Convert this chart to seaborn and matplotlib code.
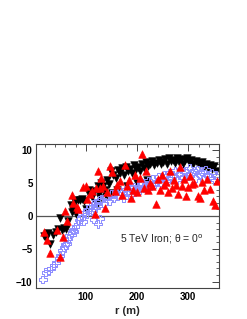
import pandas as pd
import seaborn as sns
import matplotlib.pyplot as plt
from matplotlib.ticker import MultipleLocator

# blue open crosses
blue_r = [16, 22, 27, 32, 37, 42, 47, 50, 54, 57, 60, 63, 66, 68, 72, 75, 78, 80, 84, 86,
          90, 92, 95, 98, 102, 104, 108, 112, 114, 115, 118, 120, 124, 124, 126, 128, 130, 134, 138, 142,
          146, 150, 154, 158, 162, 166, 170, 174, 178, 182, 186, 190, 194, 198, 202, 206, 210, 214,
          218, 222, 226, 230, 234, 238, 242, 246, 250, 254, 258, 262, 266, 270, 274, 278, 282, 286,
          290, 294, 298, 302, 306, 310, 314, 318, 322, 326, 330, 334, 338, 342, 346, 350, 354]
blue_v = [-9.7, -8.6, -8.4, -8.0, -7.5, -7.2, -6.5, -6.0, -5.3, -4.8, -4.4, -4.2, -3.5, -3.0, -2.5, -2.2, -2.4, -1.6, -1.2, -0.6,
          -0.4, 0.2, -0.8, 0.5, 0.3, 1.0, 1.4, 0.9, 1.8, -0.5, 2.0, 1.2, 1.6, -1.2, 2.4, -0.4, 2.6, 1.9, 2.8, 3.0,
          2.3, 3.3, 2.7, 3.6, 3.0, 3.8, 3.4, 2.8, 4.0, 3.6, 4.3, 3.2, 4.5, 3.9, 4.6, 4.0, 5.0, 4.3,
          4.8, 5.4, 4.6, 5.6, 4.9, 5.2, 6.0, 5.1, 5.8, 6.3, 5.4, 6.6, 5.7, 6.2, 6.9, 5.5, 6.4, 7.1,
          5.9, 6.8, 6.1, 7.3, 6.4, 6.9, 5.8, 7.0, 6.3, 6.8, 5.6, 7.1, 6.2, 5.9, 6.6, 5.5, 6.2]

# black down triangles
black_r = [18, 22, 26, 30, 36, 42, 46, 50, 54, 58, 62, 66, 72, 74, 76, 78, 80, 84, 88, 92,
           96, 100, 104, 106, 110, 112, 116, 120, 122, 124, 126, 128, 130, 134, 138, 140, 142, 146, 150, 152,
           154, 158, 160, 162, 166, 170, 174, 178, 180, 182, 186, 190, 194, 198, 200, 202, 206, 210,
           214, 218, 220, 222, 226, 230, 234, 238, 242, 246, 250, 254, 258, 262, 266, 270, 274, 278,
           282, 286, 290, 294, 298, 302, 306, 310, 314, 318, 322, 326, 330, 334, 338, 342, 346, 350, 354]
black_v = [-3.0, -3.3, -2.6, -4.3, -2.9, -2.4, -2.0, -0.3, -2.2, -1.8, -2.0, -0.8, 1.6, 0.6, 0.9, 2.2, 0.3, 2.5, 2.4, 2.6,
           2.3, 1.0, 3.6, 4.0, 3.3, 2.9, 3.8, 2.0, 1.6, 4.6, 3.4, 2.8, 5.1, 4.5, 3.9, 3.0, 5.5, 4.9, 6.8, 3.5,
           6.3, 5.8, 4.0, 7.0, 6.5, 7.3, 6.2, 7.5, 4.5, 6.9, 7.2, 6.6, 7.8, 7.1, 5.0, 7.4, 6.8, 7.9,
           7.3, 8.2, 5.5, 7.6, 8.0, 8.4, 7.7, 8.1, 8.6, 7.9, 8.3, 8.7, 8.0, 8.9, 8.4, 8.6, 8.1, 8.8,
           8.3, 8.7, 8.0, 8.5, 8.8, 8.2, 8.6, 7.9, 8.4, 8.1, 7.7, 8.3, 7.5, 8.0, 7.3, 7.8, 7.2, 7.6, 6.9]

# red up triangles
red_r = [18, 24, 30, 44, 50, 55, 60, 64, 74, 76, 82, 84, 94, 100, 102, 108, 112, 118, 120, 124,
         128, 130, 134, 138, 142, 148, 152, 156, 160, 166, 170, 176, 180, 184, 188, 192, 196, 200, 205, 210,
         214, 218, 222, 226, 230, 236, 240, 244, 248, 252, 256, 260, 264, 268, 272, 276, 280, 284,
         288, 292, 296, 300, 304, 308, 312, 318, 322, 326, 330, 336, 342, 348, 352, 355]
red_v = [-2.4, -3.6, -5.7, -2.1, -6.2, -3.2, 0.8, -0.7, 3.2, 2.0, 1.4, 1.0, 4.4, 4.6, 2.6, 3.4, 3.8, 0.3, 4.2, 6.9,
         4.3, 5.8, 4.6, 1.2, 3.6, 7.6, 6.7, 3.8, 4.8, 5.3, 3.2, 7.8, 4.6, 5.5, 2.8, 4.0, 6.2, 3.6, 5.8, 9.5,
         4.3, 6.8, 3.9, 5.1, 4.5, 1.8, 5.6, 3.9, 6.3, 4.7, 5.2, 3.6, 6.9, 4.2, 5.5, 4.8, 3.3, 7.5,
         4.6, 5.7, 3.0, 4.4, 6.1, 4.9, 5.0, 3.0, 2.8, 5.2, 4.0, 5.6, 4.1, 2.3, 1.6, 5.4]

blue = pd.DataFrame({'r': blue_r, 'v': blue_v})
black = pd.DataFrame({'r': black_r, 'v': black_v})
red = pd.DataFrame({'r': red_r, 'v': red_v})

sns.set_style("white")
plt.rcParams['font.family'] = ['Liberation Sans', 'DejaVu Sans']

fig = plt.figure(figsize=(2.47, 3.19), dpi=100)
ax = fig.add_axes([0.146, 0.097, 0.741, 0.452])

ax.axhline(0, color='#555555', lw=0.9, zorder=1)
sns.scatterplot(data=black, x='r', y='v', marker='v', color='black', s=30,
                edgecolor='black', linewidth=0.4, ax=ax, zorder=2)
sns.scatterplot(data=blue, x='r', y='v', marker='P', s=32, facecolor='none',
                edgecolor='#8c8cff', linewidth=0.7, ax=ax, zorder=3)
sns.scatterplot(data=red, x='r', y='v', marker='^', color='red', s=30,
                edgecolor='red', linewidth=0.4, ax=ax, zorder=4)

ax.set_xlim(3, 360)
ax.set_ylim(-11, 11)
ax.xaxis.set_major_locator(MultipleLocator(100))
ax.xaxis.set_minor_locator(MultipleLocator(20))
ax.yaxis.set_major_locator(MultipleLocator(5))
ax.yaxis.set_minor_locator(MultipleLocator(1))
ax.tick_params(which='both', direction='in', top=True, right=True, colors='#444444',
               labelcolor='black', labelsize=7)
ax.tick_params(which='major', length=5, width=0.7, pad=2.5)
ax.tick_params(which='minor', length=2.5, width=0.6)
for lab in ax.get_xticklabels() + ax.get_yticklabels():
    lab.set_fontweight('bold')
for sp in ax.spines.values():
    sp.set_color('#444444')
    sp.set_linewidth(0.8)

ax.text(166, -3.6, "5 TeV Iron; θ = 0$^{\\mathrm{o}}$", fontsize=7.5, va='center')
ax.set_xlabel("r (m)", fontsize=8, fontweight='bold', labelpad=3)
ax.set_ylabel("")

plt.savefig("out.png", dpi=100)
plt.close()
